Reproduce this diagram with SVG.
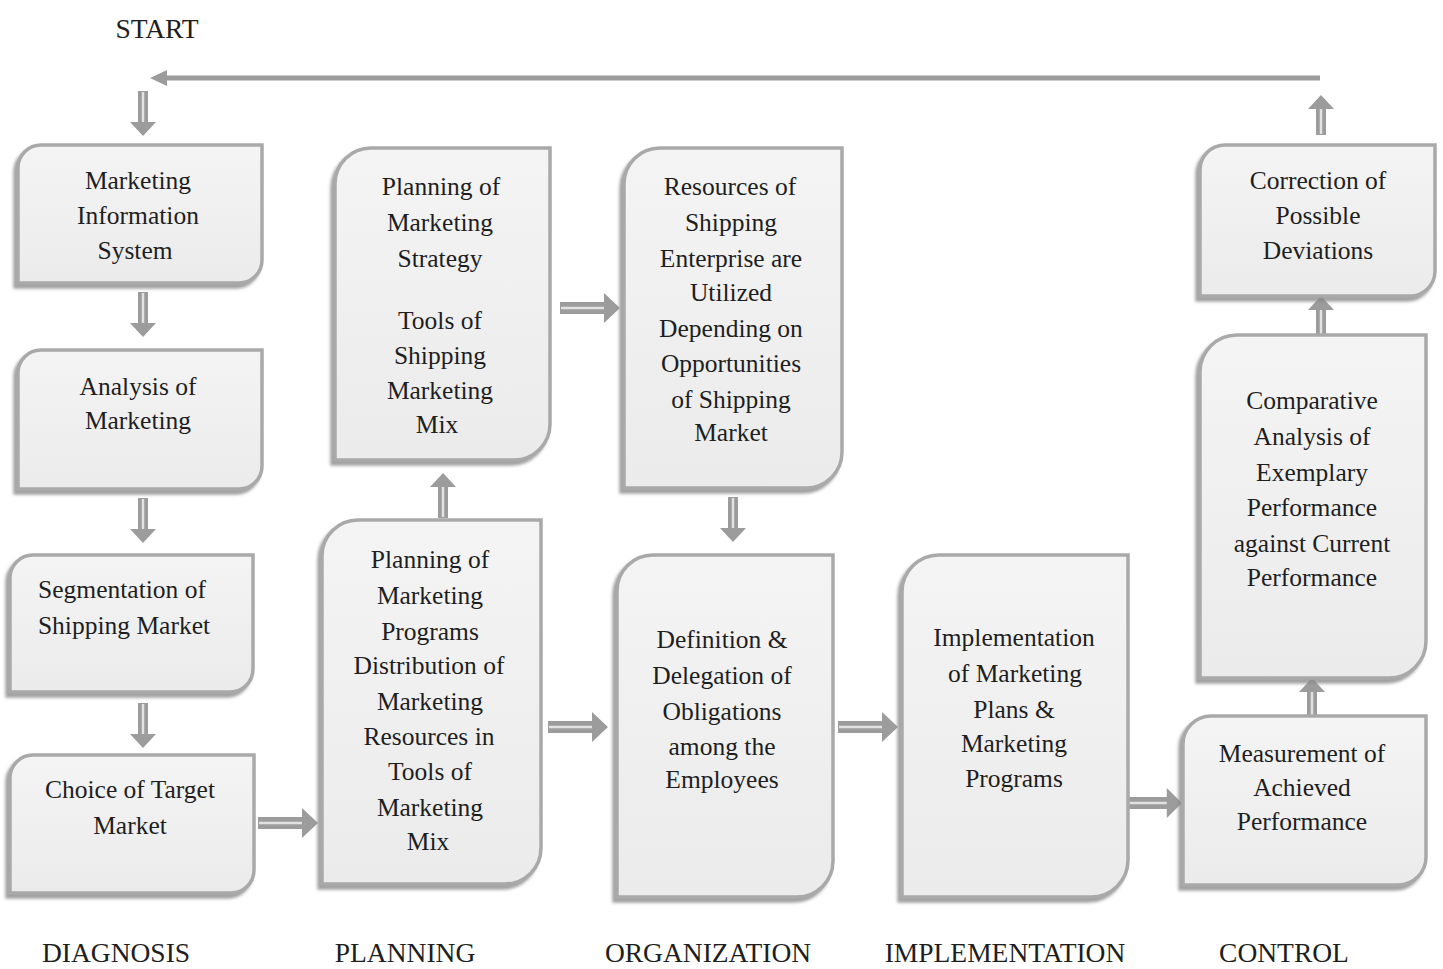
<svg xmlns="http://www.w3.org/2000/svg" xmlns:xlink="http://www.w3.org/1999/xlink" width="1443" height="969" viewBox="0 0 1443 969">
<style>
.box{fill:url(#bg);stroke:#a9a9a9;stroke-width:3.5;filter:url(#sh)}
.t{font-family:"Liberation Serif","Times New Roman",serif;font-size:25.5px;fill:#1e1e1e;text-anchor:middle}
.lab{font-family:"Liberation Serif","Times New Roman",serif;font-size:27.5px;fill:#1e1e1e;text-anchor:middle}
.ah{fill:#9c9c9c}
.ai{stroke:#e2e2e2;stroke-width:2.5;fill:none}
</style>
<defs>
<linearGradient id="bg" x1="0" y1="0" x2="0" y2="1">
<stop offset="0" stop-color="#f4f4f4"/>
<stop offset="1" stop-color="#ebebeb"/>
</linearGradient>
<filter id="sh" x="-10%" y="-10%" width="120%" height="120%">
<feDropShadow dx="-3" dy="4" stdDeviation="1.5" flood-color="#8a8a8a" flood-opacity="0.8"/>
</filter>
<g id="a40"><path class="ah" d="M0,-5 H26 V-13 L40,0 L26,13 V5 H0 Z"/><path class="ai" d="M1,0 H26"/></g>
<g id="a45"><path class="ah" d="M0,-5 H31 V-13 L45,0 L31,13 V5 H0 Z"/><path class="ai" d="M1,0 H31"/></g>
<g id="a60"><path class="ah" d="M0,-6 H44 V-15 L60,0 L44,15 V6 H0 Z"/><path class="ai" d="M1,0 H44"/></g>
</defs>
<rect width="1443" height="969" fill="#ffffff"/>

<g id="connectors">
<path d="M1320,78 H165" stroke="#9c9c9c" stroke-width="5" fill="none"/>
<path d="M150,78 L167,70 L167,86 Z" fill="#9c9c9c"/>
<use xlink:href="#a45" transform="translate(143,91) rotate(90)"/>
<use xlink:href="#a45" transform="translate(143,292) rotate(90)"/>
<use xlink:href="#a45" transform="translate(143,498) rotate(90)"/>
<use xlink:href="#a45" transform="translate(143,703) rotate(90)"/>
<use xlink:href="#a60" transform="translate(258,823)"/>
<use xlink:href="#a45" transform="translate(443,518) rotate(-90)"/>
<use xlink:href="#a60" transform="translate(560,308)"/>
<use xlink:href="#a45" transform="translate(733,497) rotate(90)"/>
<use xlink:href="#a60" transform="translate(548,727)"/>
<use xlink:href="#a60" transform="translate(838,727)"/>
<use xlink:href="#a60" transform="translate(1125,803) scale(0.95,1)"/>
<use xlink:href="#a40" transform="translate(1312,718) rotate(-90)"/>
<use xlink:href="#a40" transform="translate(1321,336) rotate(-90)"/>
<use xlink:href="#a40" transform="translate(1321,135) rotate(-90)"/>
</g>

<g id="n1"><path class="box" d="M41,145 H262 V260 A23,23 0 0 1 239,283 H18 V168 A23,23 0 0 1 41,145 Z"/>
<text class="t"><tspan x="138" y="189">Marketing</tspan><tspan x="138" y="224">Information</tspan><tspan x="135" y="259">System</tspan></text></g>

<g id="n2"><path class="box" d="M41,350 H262 V466 A23,23 0 0 1 239,489 H18 V373 A23,23 0 0 1 41,350 Z"/>
<text class="t"><tspan x="138" y="395">Analysis of</tspan><tspan x="138" y="429">Marketing</tspan></text></g>

<g id="n3"><path class="box" d="M33,555 H253 V669 A23,23 0 0 1 230,692 H10 V578 A23,23 0 0 1 33,555 Z"/>
<text class="t"><tspan x="122" y="598">Segmentation of</tspan><tspan x="124" y="634">Shipping Market</tspan></text></g>

<g id="n4"><path class="box" d="M33,755 H254 V870 A23,23 0 0 1 231,893 H10 V778 A23,23 0 0 1 33,755 Z"/>
<text class="t"><tspan x="130" y="798">Choice of Target</tspan><tspan x="130" y="834">Market</tspan></text></g>

<g id="n5"><path class="box" d="M371,148 H550 V424 A36,36 0 0 1 514,460 H335 V184 A36,36 0 0 1 371,148 Z"/>
<text class="t"><tspan x="441" y="195">Planning of</tspan><tspan x="440" y="231">Marketing</tspan><tspan x="440" y="267">Strategy</tspan><tspan x="440" y="329">Tools of</tspan><tspan x="440" y="364">Shipping</tspan><tspan x="440" y="399">Marketing</tspan><tspan x="437" y="433">Mix</tspan></text></g>

<g id="n6"><path class="box" d="M358,520 H541 V848 A36,36 0 0 1 505,884 H322 V556 A36,36 0 0 1 358,520 Z"/>
<text class="t"><tspan x="430" y="568">Planning of</tspan><tspan x="430" y="604">Marketing</tspan><tspan x="430" y="640">Programs</tspan><tspan x="429" y="674">Distribution of</tspan><tspan x="430" y="710">Marketing</tspan><tspan x="429" y="745">Resources in</tspan><tspan x="430" y="780">Tools of</tspan><tspan x="430" y="816">Marketing</tspan><tspan x="428" y="850">Mix</tspan></text></g>

<g id="n7"><path class="box" d="M660,148 H842 V452 A36,36 0 0 1 806,488 H624 V184 A36,36 0 0 1 660,148 Z"/>
<text class="t"><tspan x="730" y="195">Resources of</tspan><tspan x="731" y="231">Shipping</tspan><tspan x="731" y="267">Enterprise are</tspan><tspan x="731" y="301">Utilized</tspan><tspan x="731" y="337">Depending on</tspan><tspan x="731" y="372">Opportunities</tspan><tspan x="731" y="408">of Shipping</tspan><tspan x="731" y="441">Market</tspan></text></g>

<g id="n8"><path class="box" d="M653,555 H833 V861 A36,36 0 0 1 797,897 H617 V591 A36,36 0 0 1 653,555 Z"/>
<text class="t"><tspan x="722" y="648">Definition &amp;</tspan><tspan x="722" y="684">Delegation of</tspan><tspan x="722" y="720">Obligations</tspan><tspan x="722" y="755">among the</tspan><tspan x="722" y="788">Employees</tspan></text></g>

<g id="n9"><path class="box" d="M939,555 H1128 V860 A37,37 0 0 1 1091,897 H902 V592 A37,37 0 0 1 939,555 Z"/>
<text class="t"><tspan x="1014" y="646">Implementation</tspan><tspan x="1015" y="682">of Marketing</tspan><tspan x="1014" y="718">Plans &amp;</tspan><tspan x="1014" y="752">Marketing</tspan><tspan x="1014" y="787">Programs</tspan></text></g>

<g id="n10"><path class="box" d="M1225,145 H1435 V271 A25,25 0 0 1 1410,296 H1200 V170 A25,25 0 0 1 1225,145 Z"/>
<text class="t"><tspan x="1318" y="189">Correction of</tspan><tspan x="1318" y="224">Possible</tspan><tspan x="1318" y="259">Deviations</tspan></text></g>

<g id="n11"><path class="box" d="M1237,335 H1426 V641 A37,37 0 0 1 1389,678 H1200 V372 A37,37 0 0 1 1237,335 Z"/>
<text class="t"><tspan x="1312" y="409">Comparative</tspan><tspan x="1312" y="445">Analysis of</tspan><tspan x="1312" y="481">Exemplary</tspan><tspan x="1312" y="516">Performance</tspan><tspan x="1312" y="552">against Current</tspan><tspan x="1312" y="586">Performance</tspan></text></g>

<g id="n12"><path class="box" d="M1211,716 H1426 V857 A28,28 0 0 1 1398,885 H1183 V744 A28,28 0 0 1 1211,716 Z"/>
<text class="t"><tspan x="1302" y="762">Measurement of</tspan><tspan x="1302" y="796">Achieved</tspan><tspan x="1302" y="830">Performance</tspan></text></g>

<g id="labels">
<text class="lab" x="157" y="38">START</text>
<text class="lab" x="116" y="962">DIAGNOSIS</text>
<text class="lab" x="405" y="962">PLANNING</text>
<text class="lab" x="708" y="962">ORGANIZATION</text>
<text class="lab" x="1005" y="962">IMPLEMENTATION</text>
<text class="lab" x="1284" y="962">CONTROL</text>
</g>
</svg>
